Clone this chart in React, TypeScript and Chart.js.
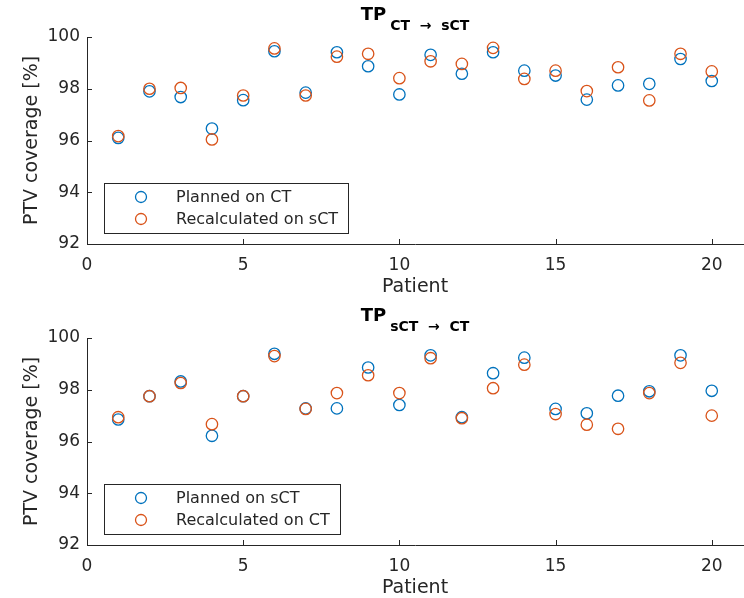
import React, { useEffect, useRef } from 'react';
import { Chart, registerables } from 'chart.js';

Chart.register(...registerables);

// ---- data ----
const patients = [1, 2, 3, 4, 5, 6, 7, 8, 9, 10, 11, 12, 13, 14, 15, 16, 17, 18, 19, 20];
const xTicks = [0, 5, 10, 15, 20];
const yTicks = [92, 94, 96, 98, 100];

const topPlanned = [96.1, 97.9, 97.68, 96.46, 97.56, 99.45, 97.85, 99.41, 98.87, 97.78, 99.31, 98.58, 99.41, 98.7, 98.51, 97.58, 98.13, 98.19, 99.15, 98.3];
const topRecalc = [96.17, 98.0, 98.03, 96.04, 97.74, 99.56, 97.74, 99.24, 99.35, 98.41, 99.06, 98.96, 99.58, 98.38, 98.7, 97.91, 98.83, 97.55, 99.35, 98.67];

const bottomPlanned = [96.85, 97.75, 98.32, 96.22, 97.75, 99.39, 97.28, 97.28, 98.86, 97.41, 99.33, 96.94, 98.64, 99.24, 97.26, 97.09, 97.77, 97.94, 99.33, 97.96];
const bottomRecalc = [96.94, 97.75, 98.26, 96.67, 97.75, 99.3, 97.26, 97.87, 98.56, 97.87, 99.22, 96.9, 98.06, 98.97, 97.06, 96.65, 96.49, 97.87, 99.04, 97.0];

const topTitleMain = 'TP';
const topTitleSub = 'CT  \u2192  sCT';
const bottomTitleMain = 'TP';
const bottomTitleSub = 'sCT  \u2192  CT';
const topLegend = ['Planned on CT', 'Recalculated on sCT'];
const bottomLegend = ['Planned on sCT', 'Recalculated on CT'];
const xLabel = 'Patient';
const yLabel = 'PTV coverage [%]';

const BLUE = '#0072BD';
const ORANGE = '#D95319';
const AXIS = '#262626';
const FONT = '"DejaVu Sans", sans-serif';

const W = 744;
const H = 297;

const matlabPlugin = {
  id: 'matlabDeco',
  afterDraw(chart: any, _args: any, opts: any) {
    const ctx = chart.ctx;
    const { left, right, top, bottom } = chart.chartArea;
    const xs = chart.scales.x;
    const ys = chart.scales.y;
    ctx.save();
    // inward tick marks
    ctx.strokeStyle = AXIS;
    ctx.lineWidth = 1;
    ctx.beginPath();
    xs.ticks.forEach((t: any) => {
      const px = Math.round(xs.getPixelForValue(t.value)) + 0.5;
      ctx.moveTo(px, bottom);
      ctx.lineTo(px, bottom - 5);
    });
    ys.ticks.forEach((t: any) => {
      const py = Math.round(ys.getPixelForValue(t.value)) + 0.5;
      ctx.moveTo(left, py);
      ctx.lineTo(left + 5, py);
    });
    ctx.stroke();

    // title with subscript
    ctx.fillStyle = '#000';
    ctx.textBaseline = 'alphabetic';
    ctx.textAlign = 'left';
    ctx.font = `bold 18px ${FONT}`;
    const wMain = ctx.measureText(opts.main).width;
    ctx.font = `bold 14px ${FONT}`;
    const wSub = ctx.measureText(opts.sub).width;
    const cx = (left + right) / 2;
    const gap = 4;
    const start = cx - (wMain + gap + wSub) / 2;
    ctx.font = `bold 18px ${FONT}`;
    ctx.fillText(opts.main, start, top - 17);
    ctx.font = `bold 14px ${FONT}`;
    ctx.fillText(opts.sub, start + wMain + gap, top - 7);

    // legend box
    ctx.font = `16px ${FONT}`;
    const labels: string[] = opts.labels;
    const colors: string[] = opts.colors;
    const textX = left + 89;
    const maxW = Math.max(...labels.map((l) => ctx.measureText(l).width));
    const bx = left + 17;
    const by = bottom - 61;
    const bw = textX + maxW + 10 - bx;
    const bh = 50;
    ctx.fillStyle = '#fff';
    ctx.fillRect(bx, by, bw, bh);
    ctx.strokeStyle = AXIS;
    ctx.lineWidth = 1;
    ctx.strokeRect(Math.round(bx) + 0.5, Math.round(by) + 0.5, Math.round(bw), bh);
    labels.forEach((l, i) => {
      const ry = by + 14 + i * 22;
      ctx.beginPath();
      ctx.strokeStyle = colors[i];
      ctx.lineWidth = 1.3;
      ctx.arc(left + 54, ry, 5.5, 0, Math.PI * 2);
      ctx.stroke();
      ctx.fillStyle = AXIS;
      ctx.textBaseline = 'middle';
      ctx.fillText(l, textX, ry + 1);
    });
    ctx.restore();
  },
};

function Panel(props: { planned: number[]; recalc: number[]; main: string; sub: string; labels: string[] }) {
  const ref = useRef<HTMLCanvasElement>(null);
  useEffect(() => {
    if (!ref.current) return;
    const mk = (vals: number[]) => patients.map((p, i) => ({ x: p, y: vals[i] }));
    const chart = new Chart(ref.current, {
      type: 'scatter',
      data: {
        datasets: [
          {
            label: props.labels[0],
            data: mk(props.planned),
            borderColor: BLUE,
            backgroundColor: 'rgba(0,0,0,0)',
            pointRadius: 5.7,
            pointBorderWidth: 1.3,
            order: 1,
          },
          {
            label: props.labels[1],
            data: mk(props.recalc),
            borderColor: ORANGE,
            backgroundColor: 'rgba(0,0,0,0)',
            pointRadius: 5.7,
            pointBorderWidth: 1.3,
            order: 0,
          },
        ],
      },
      options: {
        animation: false,
        responsive: false,
        devicePixelRatio: 1,
        layout: { autoPadding: false, padding: { top: 37, right: 1, left: 0, bottom: 0 } },
        plugins: {
          legend: { display: false },
          tooltip: { enabled: false },
          matlabDeco: { main: props.main, sub: props.sub, labels: props.labels, colors: [BLUE, ORANGE] },
        } as any,
        scales: {
          x: {
            type: 'linear',
            min: 0,
            max: 21,
            afterBuildTicks: (s: any) => {
              s.ticks = xTicks.map((v) => ({ value: v }));
            },
            afterFit: (s: any) => {
              s.height = H - 244;
              s.paddingLeft = 0;
              s.paddingRight = 0;
            },
            grid: { display: false, drawTicks: false },
            border: { display: true, color: AXIS, width: 1 },
            ticks: { color: AXIS, font: { family: FONT, size: 17 }, padding: 11, maxRotation: 0, autoSkip: false },
            title: { display: true, text: xLabel, color: AXIS, font: { family: FONT, size: 19 }, padding: { top: 0, bottom: -1 } },
          },
          y: {
            type: 'linear',
            min: 92,
            max: 100,
            afterBuildTicks: (s: any) => {
              s.ticks = yTicks.map((v) => ({ value: v }));
            },
            afterFit: (s: any) => {
              s.width = 87;
              s.paddingTop = 0;
              s.paddingBottom = 0;
            },
            grid: { display: false, drawTicks: false },
            border: { display: true, color: AXIS, width: 1 },
            ticks: { color: AXIS, font: { family: FONT, size: 17 }, padding: 7 },
            title: { display: true, text: yLabel, color: AXIS, font: { family: FONT, size: 19 }, padding: { top: 21, bottom: 0 } },
          },
        },
      } as any,
      plugins: [matlabPlugin as any],
    });
    return () => chart.destroy();
  }, []);
  return <canvas ref={ref} width={W} height={H} style={{ display: 'block', width: W, height: H }} />;
}

export default function App() {
  return (
    <div style={{ position: 'absolute', left: 0, top: 0, width: 744, height: 598, background: '#fff' }}>
      <div style={{ position: 'absolute', left: 0, top: 0 }}>
        <Panel planned={topPlanned} recalc={topRecalc} main={topTitleMain} sub={topTitleSub} labels={topLegend} />
      </div>
      <div style={{ position: 'absolute', left: 0, top: 301 }}>
        <Panel planned={bottomPlanned} recalc={bottomRecalc} main={bottomTitleMain} sub={bottomTitleSub} labels={bottomLegend} />
      </div>
    </div>
  );
}
